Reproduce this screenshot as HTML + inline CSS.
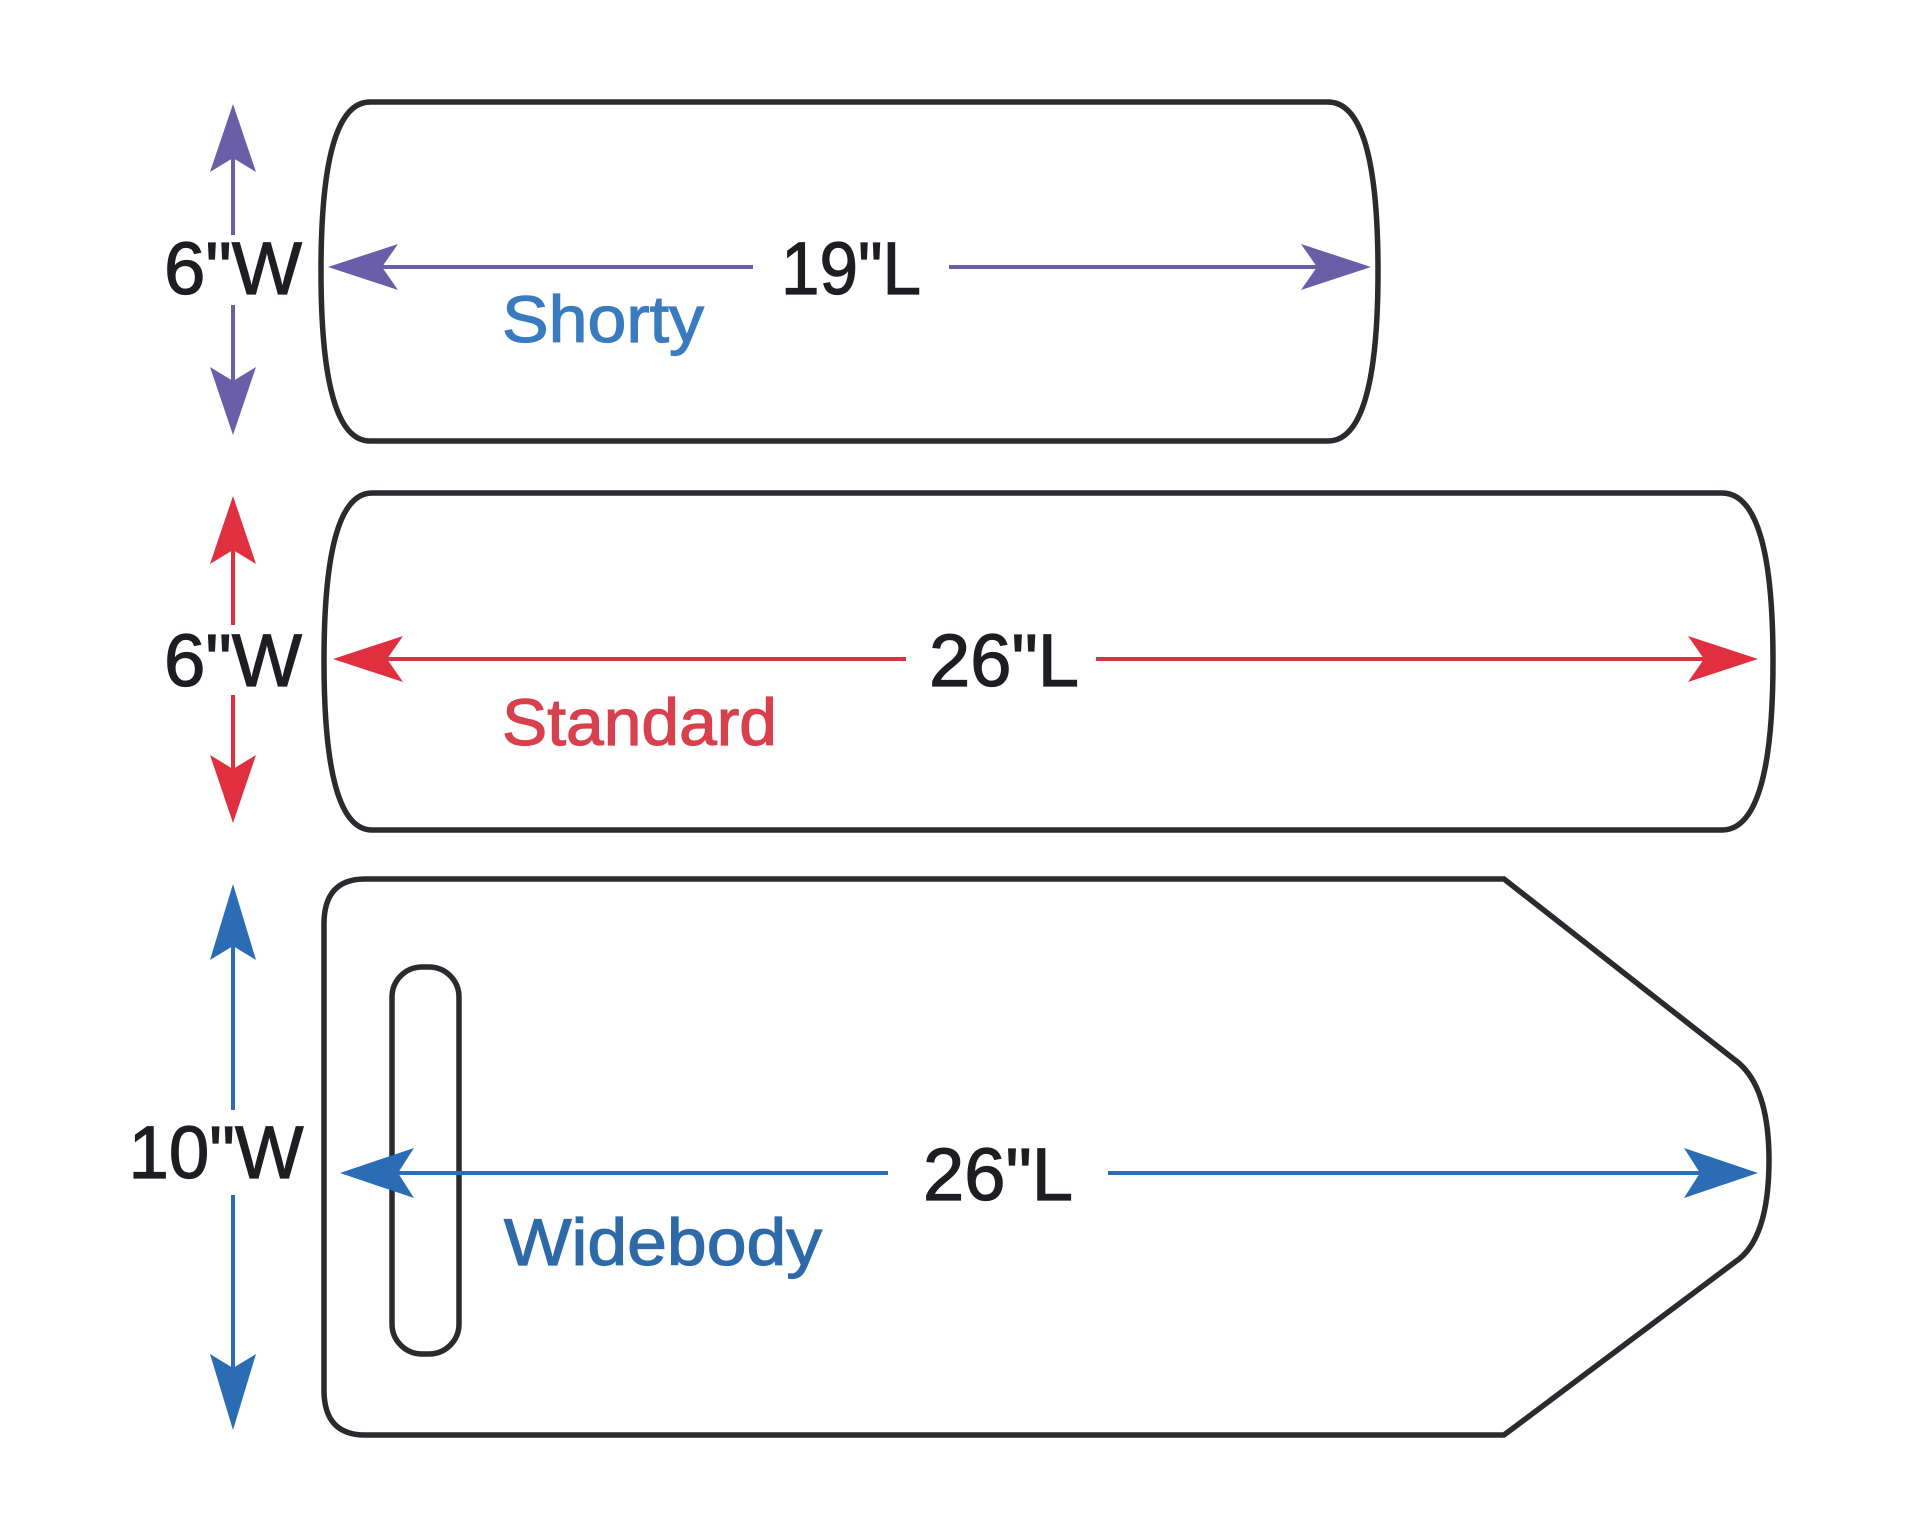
<!DOCTYPE html>
<html><head><meta charset="utf-8"><style>html,body{margin:0;padding:0;background:#fff}</style></head>
<body>
<svg width="1920" height="1522" viewBox="0 0 1920 1522" xmlns="http://www.w3.org/2000/svg" font-family="'Liberation Sans', sans-serif">
<rect width="1920" height="1522" fill="#fff"/>
<g fill="none" stroke="#2a2a2f" stroke-width="5.5">
  <path d="M370,102 H1328 Q1378,102 1378,271 Q1378,441 1328,441 H370 Q321,441 321,271 Q321,102 370,102 Z"/>
  <path d="M372,493 H1722 Q1773,493 1773,661 Q1773,830 1722,830 H372 Q324,830 324,661 Q324,493 372,493 Z"/>
  <path d="M365,879 H1504 L1735,1060 Q1769,1085 1769,1160 Q1769,1240 1735,1262 L1504,1435 H365 Q324,1435 324,1390 V924 Q324,879 365,879 Z"/>
  <rect x="392" y="967" width="67" height="387" rx="30"/>
</g>
<g stroke-width="4" fill="none">
  <line x1="233" y1="150" x2="233" y2="235" stroke="#6b5ea8"/>
  <line x1="233" y1="305" x2="233" y2="390" stroke="#6b5ea8"/>
  <line x1="360" y1="267" x2="753" y2="267" stroke="#6b5ea8"/>
  <line x1="949" y1="267" x2="1335" y2="267" stroke="#6b5ea8"/>
  <line x1="233" y1="540" x2="233" y2="625" stroke="#e0303f"/>
  <line x1="233" y1="695" x2="233" y2="780" stroke="#e0303f"/>
  <line x1="365" y1="659" x2="906" y2="659" stroke="#e0303f"/>
  <line x1="1096" y1="659" x2="1722" y2="659" stroke="#e0303f"/>
  <line x1="233" y1="930" x2="233" y2="1110" stroke="#2a6db5"/>
  <line x1="233" y1="1195" x2="233" y2="1385" stroke="#2a6db5"/>
  <line x1="372" y1="1173" x2="888" y2="1173" stroke="#2a6db5"/>
  <line x1="1108" y1="1173" x2="1722" y2="1173" stroke="#2a6db5"/>
</g>
<g fill="#6b5ea8">
  <path d="M233,104 L256,172 L233,158 L210,172 Z"/>
  <path d="M233,435 L256,367 L233,381 L210,367 Z"/>
  <path d="M328,267 L398,244 L382,267 L398,290 Z"/>
  <path d="M1371,267 L1301,244 L1317,267 L1301,290 Z"/>
</g>
<g fill="#e0303f">
  <path d="M233,496 L256,564 L233,550 L210,564 Z"/>
  <path d="M233,823 L256,755 L233,769 L210,755 Z"/>
  <path d="M333,659 L403,636 L387,659 L403,682 Z"/>
  <path d="M1758,659 L1688,636 L1704,659 L1688,682 Z"/>
</g>
<g fill="#2a6db5">
  <path d="M233,884 L256,960 L233,946 L210,960 Z"/>
  <path d="M233,1430 L256,1354 L233,1368 L210,1354 Z"/>
  <path d="M340,1173 L414,1148 L398,1173 L414,1198 Z"/>
  <path d="M1758,1173 L1684,1148 L1700,1173 L1684,1198 Z"/>
</g>
<g fill="#1e1e22" stroke="#1e1e22" stroke-width="1.2" font-size="74">
  <text x="233" y="294" text-anchor="middle" textLength="138" lengthAdjust="spacingAndGlyphs">6"W</text>
  <text x="233" y="686" text-anchor="middle" textLength="138" lengthAdjust="spacingAndGlyphs">6"W</text>
  <text x="216" y="1178" text-anchor="middle" textLength="175" lengthAdjust="spacingAndGlyphs">10"W</text>
  <text x="851" y="294" text-anchor="middle" textLength="140" lengthAdjust="spacingAndGlyphs">19"L</text>
  <text x="1004" y="686" text-anchor="middle" textLength="150" lengthAdjust="spacingAndGlyphs">26"L</text>
  <text x="998" y="1200" text-anchor="middle" textLength="150" lengthAdjust="spacingAndGlyphs">26"L</text>
</g>
<g font-size="66" stroke-width="1.2">
  <text x="502" y="342" fill="#3a7bbf" stroke="#3a7bbf" textLength="202" lengthAdjust="spacingAndGlyphs">Shorty</text>
  <text x="502" y="745" fill="#d9404e" stroke="#d9404e" textLength="275" lengthAdjust="spacingAndGlyphs">Standard</text>
  <text x="504" y="1265" fill="#2f6aa8" stroke="#2f6aa8" textLength="318" lengthAdjust="spacingAndGlyphs">Widebody</text>
</g>
</svg>
</body></html>
